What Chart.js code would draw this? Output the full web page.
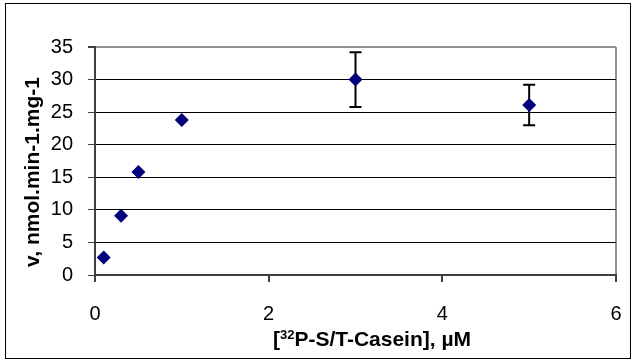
<!DOCTYPE html>
<html lang="en">
<head>
    <meta charset="UTF-8">
    <title>Casein kinase rate</title>
    <script src="https://cdn.jsdelivr.net/npm/chart.js"></script>
    <style>
        html, body { margin: 0; padding: 0; background: #fff; }
        #wrap { width: 633px; height: 360px; position: relative; }
    </style>
</head>
<body>
    <div id="wrap">
        <canvas id="rateChart" width="633" height="360"></canvas>
    </div>

    <script>
        // substrate concentration (uM) and measured rate
        const conc = [0.1, 0.3, 0.5, 1, 3, 5];
        const rate = [2.7, 9.1, 15.8, 23.8, 30.0, 26.1];
        const rateErr = [null, null, null, null, 4.2, 3.1];

        const xTicks = [0, 2, 4, 6];
        const yTicks = [0, 5, 10, 15, 20, 25, 30, 35];

        const FONT = "'Liberation Sans', Arial, sans-serif";

        // error bars, drawn under the markers
        const errorBars = {
            id: 'errorBars',
            beforeDatasetsDraw(chart) {
                const ctx = chart.ctx;
                const xs = chart.scales.x, ys = chart.scales.y;
                ctx.save();
                ctx.strokeStyle = '#000';
                ctx.lineWidth = 2;
                conc.forEach((c, i) => {
                    if (rateErr[i] == null) return;
                    const px = xs.getPixelForValue(c);
                    const top = ys.getPixelForValue(rate[i] + rateErr[i]);
                    const bot = ys.getPixelForValue(rate[i] - rateErr[i]);
                    ctx.beginPath();
                    ctx.moveTo(px, top); ctx.lineTo(px, bot);
                    ctx.moveTo(px - 6, top); ctx.lineTo(px + 6, top);
                    ctx.moveTo(px - 6, bot); ctx.lineTo(px + 6, bot);
                    ctx.stroke();
                });
                ctx.restore();
            }
        };

        // outer frame and the two axis titles (x title has a superscript)
        const frameAndTitles = {
            id: 'frameAndTitles',
            afterDraw(chart) {
                const ctx = chart.ctx;
                ctx.save();
                ctx.strokeStyle = '#000';
                ctx.lineWidth = 1;
                ctx.strokeRect(5.5, 3.5, 625, 355);

                ctx.fillStyle = '#000';
                ctx.textBaseline = 'middle';

                // y title
                ctx.save();
                ctx.translate(33, 172);
                ctx.rotate(-Math.PI / 2);
                ctx.textAlign = 'center';
                ctx.font = 'bold 21px ' + FONT;
                ctx.fillText('v, nmol.min-1.mg-1', 0, 0);
                ctx.restore();

                // x title: "[" + sup "32" + rest
                const big = 'bold 21px ' + FONT, small = 'bold 13px ' + FONT;
                const parts = [['[', big, 0], ['32', small, -5], ['P-S/T-Casein], \u00b5M', big, 0]];
                let total = 0;
                parts.forEach(p => { ctx.font = p[1]; total += ctx.measureText(p[0]).width; });
                let x = 372 - total / 2;
                ctx.textAlign = 'left';
                parts.forEach(p => {
                    ctx.font = p[1];
                    ctx.fillText(p[0], x, 340 + p[2]);
                    x += ctx.measureText(p[0]).width;
                });
                ctx.restore();
            }
        };

        new Chart(document.getElementById('rateChart'), {
            type: 'scatter',
            data: {
                datasets: [{
                    data: conc.map((c, i) => ({ x: c, y: rate[i] })),
                    pointStyle: 'rectRot',
                    pointRadius: 7,
                    pointHoverRadius: 7,
                    backgroundColor: '#000080',
                    borderColor: '#000080',
                    borderWidth: 0
                }]
            },
            options: {
                responsive: false,
                animation: false,
                layout: { padding: { top: 47, right: 17, left: 0, bottom: 0 } },
                plugins: {
                    legend: { display: false },
                    tooltip: { enabled: false }
                },
                scales: {
                    x: {
                        type: 'linear',
                        min: 0,
                        max: 6,
                        afterBuildTicks: s => { s.ticks = xTicks.map(v => ({ value: v })); },
                        afterFit: s => { s.height = 85; s.paddingLeft = 0; s.paddingRight = 0; },
                        border: { color: '#404040', width: 2 },
                        grid: {
                            color: c => c.tick && c.tick.value === 6 ? '#909090' : 'rgba(0,0,0,0)',
                            tickColor: '#404040',
                            tickLength: 7,
                            lineWidth: 2
                        },
                        ticks: {
                            color: '#000',
                            padding: 20,
                            maxRotation: 0,
                            font: { family: FONT, size: 20 }
                        }
                    },
                    y: {
                        min: 0,
                        max: 35,
                        afterBuildTicks: s => { s.ticks = yTicks.map(v => ({ value: v })); },
                        afterFit: s => { s.width = 95; },
                        border: { color: '#404040', width: 2 },
                        grid: {
                            color: c => c.tick && c.tick.value === 35 ? '#909090' : '#000',
                            lineWidth: c => c.tick && c.tick.value === 35 ? 2 : 1,
                            tickColor: '#404040',
                            tickLength: 7
                        },
                        ticks: {
                            color: '#000',
                            padding: 15,
                            font: { family: FONT, size: 20 }
                        }
                    }
                }
            },
            plugins: [errorBars, frameAndTitles]
        });
    </script>
</body>
</html>
